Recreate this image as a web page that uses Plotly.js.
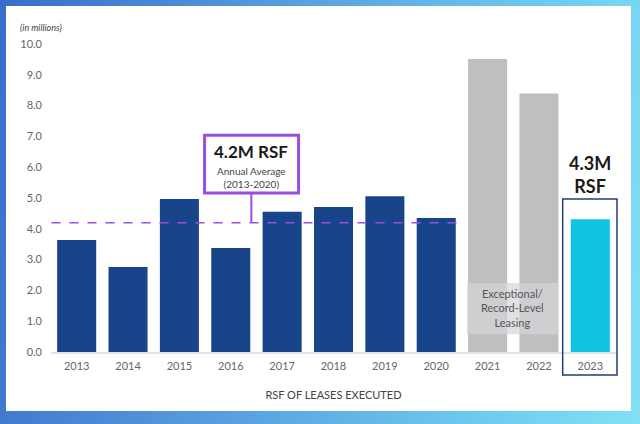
<!DOCTYPE html>
<html>
<head>
<meta charset="utf-8">
<script src="https://cdn.plot.ly/plotly-3.0.1.min.js"></script>
<style>
  html, body { margin:0; padding:0; width:640px; height:424px; overflow:hidden; }
  body { background: linear-gradient(100deg, #3a6dca 0%, #5aa3e0 45%, #6cc8ee 75%, #82e0f5 100%); position:relative; }
  #panel { position:absolute; left:6px; top:6px; width:625px; height:405px; background:#ffffff; }
  #chart { position:absolute; left:0; top:0; width:640px; height:424px; }
</style>
</head>
<body>
<div id="panel"></div>
<div id="chart"></div>
<script>
// ---- data ----
const years = ['2013','2014','2015','2016','2017','2018','2019','2020','2021','2022','2023'];
const histYears = ['2013','2014','2015','2016','2017','2018','2019','2020'];
const histValues = [3.64, 2.76, 4.97, 3.38, 4.55, 4.71, 5.06, 4.35];
const recordYears = ['2021','2022'];
const recordValues = [9.51, 8.39];
const currentYears = ['2023'];
const currentValues = [4.31];
const averageValue = 4.2;
const yTicks = [0,1,2,3,4,5,6,7,8,9,10];
const yTickLabels = ['0.0','1.0','2.0','3.0','4.0','5.0','6.0','7.0','8.0','9.0','10.0'];

const FONT = 'Lato, "Open Sans", sans-serif';

const traces = [
  { type:'bar', x:histYears, y:histValues, marker:{color:'#18458a'}, hoverinfo:'skip' },
  { type:'bar', x:recordYears, y:recordValues, marker:{color:'#bfbfbf'}, hoverinfo:'skip' },
  { type:'bar', x:currentYears, y:currentValues, marker:{color:'#10c4e1'}, hoverinfo:'skip' }
];

const layout = {
  width:640, height:424,
  margin:{l:51, r:24, t:44, b:72},
  paper_bgcolor:'rgba(0,0,0,0)',
  plot_bgcolor:'rgba(0,0,0,0)',
  showlegend:false,
  barmode:'overlay',
  bargap:0.24,
  font:{family:FONT, color:'#555'},
  xaxis:{
    type:'category', categoryorder:'array', categoryarray:years,
    range:[-0.5, 10.5], showgrid:false, zeroline:false,
    showline:true, linecolor:'#e3e3e3', linewidth:2,
    ticks:'', tickfont:{size:11, color:'#666', family:FONT},
    ticklabelstandoff:3,
    title:{text:'RSF OF LEASES EXECUTED', font:{size:11, color:'#444', family:FONT}, standoff:20}
  },
  yaxis:{
    range:[0,10], showgrid:false, zeroline:false, showline:false,
    tickmode:'array', tickvals:yTicks, ticktext:yTickLabels,
    ticks:'', tickfont:{size:11, color:'#666', family:FONT},
    ticklabelstandoff:8
  },
  shapes:[
    { type:'line', xref:'x', yref:'y', x0:-0.49, x1:7.45, y0:averageValue, y1:averageValue,
      line:{color:'#9a4de6', width:1.5, dash:'dash'} },
    { type:'line', xref:'x', yref:'y', x0:3.40, x1:3.40, y0:averageValue, y1:5.16,
      line:{color:'#9a4de6', width:2} },
    { type:'rect', xref:'x', yref:'y', x0:2.49, x1:4.32, y0:5.16, y1:7.04,
      line:{color:'#9a4de6', width:3}, fillcolor:'#ffffff' },
    { type:'rect', xref:'x', yref:'y', x0:7.60, x1:9.38, y0:0.58, y1:2.24,
      line:{width:0}, fillcolor:'rgba(214,214,218,0.72)' },
    { type:'rect', xref:'paper', yref:'paper',
      x0:(562.7-51)/565, x1:(617-51)/565, y0:(352-375)/308, y1:(352-199)/308,
      line:{color:'#1f3f78', width:1.5}, fillcolor:'rgba(0,0,0,0)' }
  ],
  annotations:[
    { xref:'paper', yref:'paper', x:(18-51)/565, y:(352-28)/308, xanchor:'left', yanchor:'middle',
      text:'<i>(in millions)</i>', showarrow:false, font:{size:9, color:'#444', family:FONT} },
    { xref:'x', yref:'y', x:3.40, y:(352-151)/30.8, text:'<b>4.2M RSF</b>', showarrow:false,
      font:{size:17, color:'#1a1a1a', family:FONT} },
    { xref:'x', yref:'y', x:3.40, y:(352-177)/30.8, text:'Annual Average<br>(2013-2020)', showarrow:false,
      font:{size:10, color:'#444', family:FONT} },
    { xref:'x', yref:'y', x:8.49, y:(352-308)/30.8, text:'Exceptional/<br>Record-Level<br>Leasing', showarrow:false,
      font:{size:11, color:'#555', family:FONT} },
    { xref:'x', yref:'y', x:10, y:(352-174)/30.8, text:'<b>4.3M<br>RSF</b>', showarrow:false,
      font:{size:18, color:'#1a1a1a', family:FONT} }
  ]
};

Plotly.newPlot('chart', traces, layout, {staticPlot:true, displayModeBar:false});
</script>
</body>
</html>
